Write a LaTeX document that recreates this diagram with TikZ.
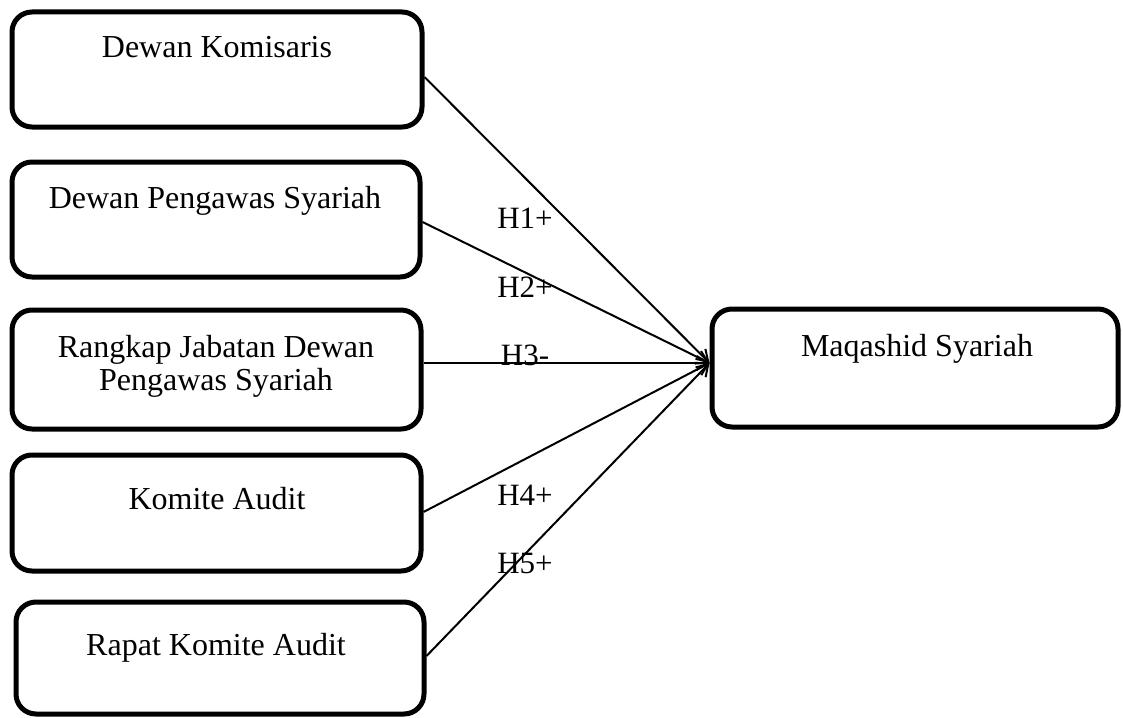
\documentclass[tikz,border=0pt]{standalone}
\usepackage{fontspec}
\setmainfont{Liberation Serif}
\usetikzlibrary{arrows.meta}
\begin{document}
\begin{tikzpicture}[x=1pt,y=-1pt,
  box/.style={draw, line width=5pt, rounded corners=20pt, inner sep=0pt},
  txt/.style={anchor=base, inner sep=0pt, font=\fontsize{32}{34}\selectfont},
  hyp/.style={anchor=base, inner sep=0pt, font=\fontsize{31}{33}\selectfont},
  conn/.style={line width=2pt, -{Straight Barb[length=11pt,width=14pt,line width=2pt]}}]
\useasboundingbox (0,0) rectangle (1123,717);
\fill[white] (0,0) rectangle (1123,717);
% boxes
\node[box, minimum width=410pt, minimum height=115pt] (b1) at (217,69.5) {};
\node[box, minimum width=408pt, minimum height=115pt] (b2) at (216,219.5) {};
\node[box, minimum width=409pt, minimum height=119pt] (b3) at (216.5,369.5) {};
\node[box, minimum width=409pt, minimum height=116pt] (b4) at (216.5,513) {};
\node[box, minimum width=408pt, minimum height=112pt] (b5) at (220,658) {};
\node[box, minimum width=406pt, minimum height=118pt] (m) at (915,368) {};
% texts
\node[txt] (t1) at (217,58) {Dewan Komisaris};
\node[txt] (t2) at (215,208) {Dewan Pengawas Syariah};
\node[txt] (t3a) at (216,357) {Rangkap Jabatan Dewan};
\node[txt] (t3b) at (216,390) {Pengawas Syariah};
\node[txt] (t4) at (217,509) {Komite Audit};
\node[txt] (t5) at (216,655) {Rapat Komite Audit};
\node[txt] (tm) at (917,356) {Maqashid Syariah};
% connectors
\coordinate (tip) at ([yshift=5pt]m.west);
\draw[conn] ([yshift=-7.5pt]b1.east) -- (tip);
\draw[conn] ([yshift=-2.5pt]b2.east) -- (tip);
\draw[conn] ([yshift=6.5pt]b3.east) -- (tip);
\draw[conn] ([yshift=1pt]b4.east) -- (tip);
\draw[conn] ([yshift=2pt]b5.east) -- (tip);
% hypothesis labels
\node[hyp] (h1) at (525,228) {H1+};
\node[hyp] (h2) at (525,297) {H2+};
\node[hyp] (h3) at (525,365) {H3-};
\node[hyp] (h4) at (525,505) {H4+};
\node[hyp] (h5) at (525,573) {H5+};
\end{tikzpicture}
\end{document}
